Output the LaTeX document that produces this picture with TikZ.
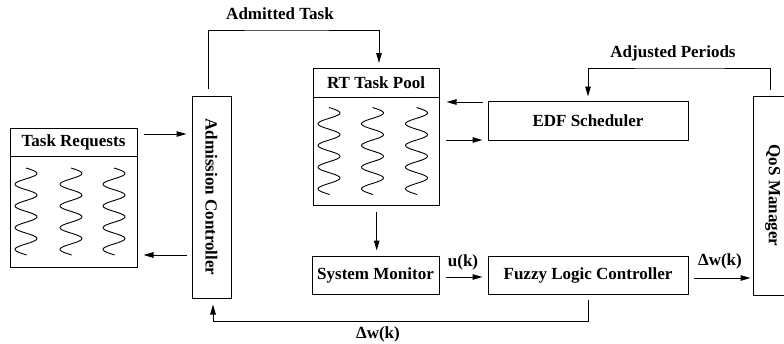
\documentclass[tikz,border=0pt]{standalone}
\usepackage{fontspec}
\setmainfont{Liberation Serif}
\usetikzlibrary{arrows.meta}
\begin{document}
\begin{tikzpicture}[x=1pt,y=-1pt,
  every node/.style={font=\fontsize{17}{20}\selectfont\bfseries},
  box/.style={draw,line width=1pt,inner sep=0pt,anchor=center},
  arr/.style={line width=1pt,-{Triangle[length=10pt,width=5.5pt]}},
  wire/.style={line width=1pt},
  squig/.style={line width=0.9pt,smooth,samples=90,domain=0:87}]
\useasboundingbox (0,0) rectangle (784,343);
\begin{scope}
\clip (0,0) rectangle (784,343);

% task queues with their headers
\node[box,minimum width=127pt,minimum height=139pt] (req) at (73.5,197.5) {};
\draw[wire] (10,156) -- (137,156);
\node (reqt) at (73.5,142) {Task Requests};
\node[box,minimum width=126pt,minimum height=137pt] (pool) at (376,137) {};
\draw[wire] (313,97) -- (439,97);
\node (poolt) at (376,83) {RT Task Pool};

% waiting tasks drawn as squiggles
\foreach \cx in {26,71,114}
  \draw[squig] plot ({\cx+11*sin(\x*16.59)},{168+\x});
\foreach \cx in {329,372.5,416.5}
  \draw[squig] plot ({\cx+11*sin(\x*16.59)},{107.5+\x});

% controllers
\node[box,minimum width=39pt,minimum height=202pt] (adm) at (211.5,197)
  {\rotatebox{-90}{Admission Controller}};
\node[box,minimum width=39pt,minimum height=199pt] (qos) at (772.5,195.5)
  {\rotatebox{-90}{QoS Manager}};
\node[box,minimum width=200pt,minimum height=39pt] (edf) at (588,120.5) {EDF Scheduler};
\node[box,minimum width=127pt,minimum height=38pt] (mon) at (375.5,275) {System Monitor};
\node[box,minimum width=200pt,minimum height=38pt] (flc) at (588,275) {Fuzzy Logic Controller};
\end{scope}

% connectors
\draw[arr,shorten <=6pt,shorten >=5pt] ([yshift=63.5pt]req.east) -- ([yshift=63.5pt]req.east -| adm.west);
\draw[arr,shorten <=5pt,shorten >=6pt] ([yshift=-57.5pt]req.east -| adm.west) -- ([yshift=-57.5pt]req.east);

\coordinate (atop) at (280,30);
\draw[arr] ([xshift=-3.5pt,yshift=7pt]adm.north) |- (atop) -| ([xshift=3pt,yshift=5pt]pool.north);
\node (admt) at (280,14) {Admitted Task};

\draw[arr,shorten <=5pt,shorten >=7pt] ([yshift=35pt]pool.east -| edf.west) -- ([yshift=35pt]pool.east);
\draw[arr,shorten <=6pt,shorten >=5pt] ([yshift=-3pt]pool.east) -- ([yshift=-3pt]pool.east -| edf.west);

\coordinate (ptop) at (680,68);
\draw[arr] ([xshift=-2.5pt,yshift=6pt]qos.north) |- (ptop) -| ([yshift=4pt]edf.north);
\node (adjt) at (673,53) {Adjusted Periods};

\draw[arr,shorten <=6pt,shorten >=5pt] ([xshift=0.7pt]pool.south) -- ([xshift=1.2pt]mon.north);

\draw[arr,shorten <=6pt,shorten >=5pt] ([yshift=-2pt]mon.east) -- ([yshift=-2pt]mon.east -| flc.west);
\node (ut) at (463,262) {u(k)};

\draw[arr,shorten <=5pt,shorten >=2pt] ([yshift=-3pt]flc.east) -- ([yshift=-3pt]flc.east -| qos.west);
\node (dwt1) at (720,261) {Δw(k)};

\coordinate (fb) at (400,321.5);
\draw[arr] ([yshift=-5pt]flc.south) |- (fb) -| ([xshift=1.5pt,yshift=-6pt]adm.south);
\node (dwt2) at (378,334) {Δw(k)};
\end{tikzpicture}
\end{document}
